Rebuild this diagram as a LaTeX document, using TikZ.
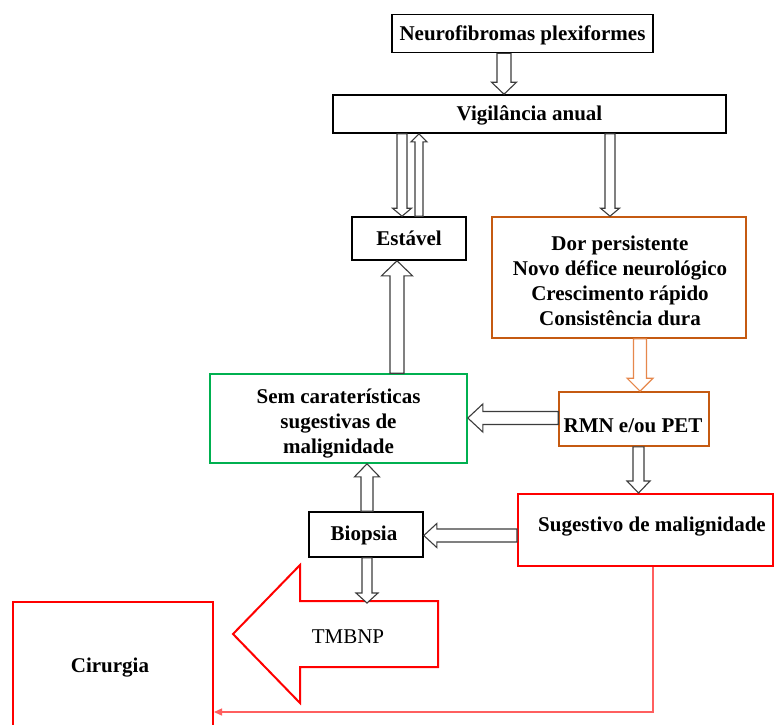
\documentclass[tikz,border=0pt]{standalone}
\usepackage{fontspec}
\setmainfont{Liberation Serif}
\usetikzlibrary{calc,arrows.meta}
\definecolor{orng}{RGB}{197,90,17}
\definecolor{orngl}{RGB}{230,135,75}
\definecolor{grn}{RGB}{0,176,80}
\definecolor{rd}{RGB}{255,0,0}
\definecolor{rdl}{RGB}{255,95,95}
\definecolor{agray}{RGB}{60,60,60}
\tikzset{
  box/.style={draw, line width=1.6pt, inner sep=0pt, anchor=center, align=center,
    font=\fontsize{21}{25}\selectfont\bfseries},
  txt/.style={inner sep=0pt, anchor=center, align=center,
    font=\fontsize{21}{25}\selectfont\bfseries},
  harrow/.style={draw=agray, line width=1.1pt, fill=white, line join=miter},
  oarrow/.style={draw=orngl, line width=1.1pt, fill=white, line join=miter},
}
\newcommand\blockarrow[6][harrow]{%
  \coordinate (ba-s) at (#2);
  \coordinate (ba-e) at (#3);
  \coordinate (ba-h) at ($(ba-e)!#6!(ba-s)$);
  \draw[#1] ($(ba-s)!#4!90:(ba-e)$) -- ($(ba-h)!#4!90:(ba-e)$) -- ($(ba-h)!#5!90:(ba-e)$) -- (ba-e)
    -- ($(ba-h)!#5!-90:(ba-e)$) -- ($(ba-h)!#4!-90:(ba-e)$) -- ($(ba-s)!#4!-90:(ba-e)$) -- cycle;
}
\begin{document}
\begin{tikzpicture}[x=1pt,y=-1pt]
\useasboundingbox (0,0) rectangle (775,724);
\clip (0,0) rectangle (775,724);
\fill[white] (0,0) rectangle (775,724);

% boxes
\node[box, minimum width=261pt, minimum height=38pt] (neuro) at (522.5,33.5) {};
\node[txt] (neurot) at (522.5,35) {Neurofibromas plexiformes};
\node[box, minimum width=393pt, minimum height=38pt] (vig) at (529.5,114) {};
\node[txt] (vigt) at (529.5,115.5) {Vigilância anual};
\node[box, minimum width=114pt, minimum height=43pt] (est) at (409,238.5) {Estável};
\node[box, draw=orng, minimum width=254pt, minimum height=121pt] (dor) at (619,277.5) {};
\node[txt] (dort) at (620,281)
  {Dor persistente\\Novo défice neurológico\\Crescimento rápido\\Consistência dura};
\node[box, draw=grn, minimum width=257pt, minimum height=89pt] (sem) at (338.5,418.5) {};
\node[txt] (semt) at (338.5,423.5) {Sem caraterísticas\\sugestivas de\\malignidade};
\node[box, draw=orng, minimum width=150pt, minimum height=54pt] (rmn) at (634,419) {};
\node[txt] (rmnt) at (633,426) {RMN e/ou PET};
\node[box, draw=rd, line width=2pt, minimum width=255pt, minimum height=72pt] (sug) at (645.5,530) {};
\node[txt] (sugt) at (652,527) {Sugestivo de malignidade};
\node[box, minimum width=114pt, minimum height=45pt] (bio) at (366,534.5) {};
\node[txt] (biot) at (364,535.5) {Biopsia};
\node[box, draw=rd, line width=2pt, minimum width=200pt, minimum height=140pt] (cir) at (113,672) {};
\node[txt] (cirt) at (110,668) {Cirurgia};

% TMBNP big arrow
\draw[rd, line width=2pt, line join=miter] (438,601) -- (300,601) -- (300,565) -- (233,634)
  -- (300,703) -- (300,667) -- (438,667) -- cycle;
\node[txt, font=\fontsize{21}{25}\selectfont] (tmbnp) at (348,637) {TMBNP};
\coordinate (tmtop) at (367,603);

% helper x positions
\coordinate (c1) at (504,0);
\coordinate (c2) at (402,0);
\coordinate (c3) at (419,0);
\coordinate (c4) at (610,0);
\coordinate (c5) at (640,0);
\coordinate (c6) at (0,418);
\coordinate (c7) at (397,0);
\coordinate (c8) at (638.5,0);
\coordinate (c9) at (0,535.5);
\coordinate (c10) at (367,0);

% hollow block arrows
\blockarrow{c1 |- neuro.south}{c1 |- vig.north}{7pt}{12.5pt}{12pt}
\blockarrow{c2 |- vig.south}{c2 |- est.north}{5pt}{9.5pt}{8pt}
\blockarrow{c3 |- est.north}{c3 |- vig.south}{4pt}{8pt}{8pt}
\blockarrow{c4 |- vig.south}{c4 |- dor.north}{5pt}{9.5pt}{8pt}
\blockarrow[oarrow]{c5 |- dor.south}{c5 |- rmn.north}{6.5pt}{13pt}{13pt}
\blockarrow{rmn.west |- c6}{sem.east |- c6}{6.5pt}{14pt}{15pt}
\blockarrow{c7 |- sem.north}{c7 |- est.south}{7pt}{15.5pt}{15pt}
\blockarrow{c8 |- rmn.south}{c8 |- sug.north}{5.5pt}{11.5pt}{12pt}
\blockarrow{sug.west |- c9}{bio.east |- c9}{6.5pt}{12pt}{13pt}
\blockarrow{c10 |- bio.north}{c10 |- sem.south}{6pt}{12.5pt}{13pt}
\blockarrow{c10 |- bio.south}{tmtop}{5pt}{11pt}{10pt}

% red connector
\coordinate (rc) at (653,712);
\draw[rdl, line width=1.3pt, -{Triangle[length=8pt,width=7pt]}] (sug.south -| rc) -- (rc) -- (cir.east |- rc);
\end{tikzpicture}
\end{document}
